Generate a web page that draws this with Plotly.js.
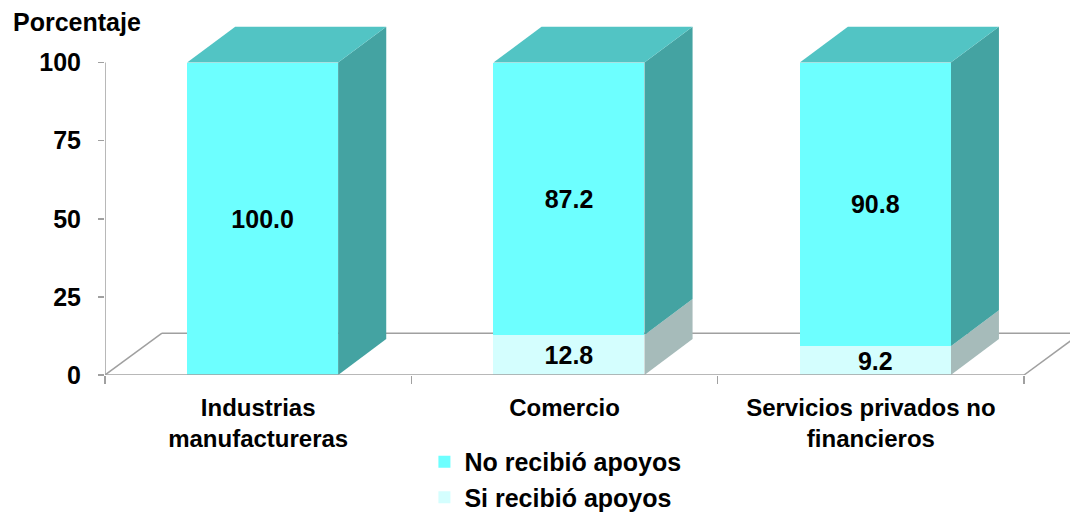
<!DOCTYPE html>
<html>
<head>
<meta charset="utf-8">
<script src="https://cdn.plot.ly/plotly-3.0.1.min.js"></script>
<style>
  html, body { margin: 0; padding: 0; background: #ffffff; }
  #chart { width: 1070px; height: 515px; }
</style>
</head>
<body>
<div id="chart"></div>
<script>
// ---- data ----
const categorias = ['Industrias<br>manufactureras', 'Comercio', 'Servicios privados no<br>financieros'];
const noRecibio = [100.0, 87.2, 90.8];
const siRecibio = [0.0, 12.8, 9.2];
const serieNo = 'No recibió apoyos';
const serieSi = 'Si recibió apoyos';
const yTicks = [0, 25, 50, 75, 100];
const tituloEje = 'Porcentaje';

// ---- styling ----
const FONT = 'Liberation Sans, Arial, Helvetica, sans-serif';
const colNoFront = '#6dffff', colNoSide = '#44a3a2', colNoTop = '#52c4c4';
const colSiFront = '#d4fefe', colSiSide = '#a6bbba';
const axisGray = '#a0a0a0';
const barWidth = 0.493, barOffset = -0.232;
const depthX = 0.157, depthY = 11.5;      // bar depth (axis units)
const floorX = 0.186, floorY = 13.4;      // floor depth (axis units)

const fmt = v => (v > 0 ? v.toFixed(1) : '');

const traceSi = {
  type: 'bar', name: serieSi, x: categorias, y: siRecibio,
  width: barWidth, offset: barOffset,
  marker: { color: colSiFront, line: { width: 0 } },
  text: siRecibio.map(fmt), textposition: 'inside', insidetextanchor: 'middle',
  textangle: 0, constraintext: 'none',
  textfont: { family: FONT, size: 25, color: '#000', weight: 'bold' },
  hoverinfo: 'skip'
};
const traceNo = {
  type: 'bar', name: serieNo, x: categorias, y: noRecibio,
  width: barWidth, offset: barOffset,
  marker: { color: colNoFront, line: { width: 0 } },
  text: noRecibio.map(fmt), textposition: 'inside', insidetextanchor: 'middle',
  textangle: 0, constraintext: 'none',
  textfont: { family: FONT, size: 25, color: '#000', weight: 'bold' },
  hoverinfo: 'skip'
};

// ---- pseudo-3D shapes derived from the data ----
const shapes = [];
const nCat = categorias.length;
const xL = -0.5, xR = nCat - 0.5;
const lineStyle = { color: axisGray, width: 1.5 };
// floor
shapes.push({ type: 'line', xref: 'x', yref: 'y', x0: xL, y0: 0, x1: xL + floorX, y1: floorY, line: lineStyle, layer: 'below' });
shapes.push({ type: 'line', xref: 'x', yref: 'y', x0: xL + floorX, y0: floorY, x1: xR + 1, y1: floorY, line: lineStyle, layer: 'below' });
shapes.push({ type: 'line', xref: 'x', yref: 'y', x0: xR, y0: 0, x1: xR + floorX * 1.5, y1: floorY * 1.5, line: lineStyle, layer: 'below' });

const pth = pts => 'M' + pts.map(p => p[0] + ',' + p[1]).join(' L') + ' Z';
for (let i = 0; i < nCat; i++) {
  const x0 = i + barOffset, x1 = x0 + barWidth;
  const s = siRecibio[i], tot = siRecibio[i] + noRecibio[i];
  if (s > 0) {
    shapes.push({ type: 'path', xref: 'x', yref: 'y', layer: 'below', line: { width: 0 }, fillcolor: colSiSide,
      path: pth([[x1, 0], [x1 + depthX, depthY], [x1 + depthX, s + depthY], [x1, s]]) });
  }
  shapes.push({ type: 'path', xref: 'x', yref: 'y', layer: 'below', line: { width: 0 }, fillcolor: colNoSide,
    path: pth([[x1, s], [x1 + depthX, s + depthY], [x1 + depthX, tot + depthY], [x1, tot]]) });
  shapes.push({ type: 'path', xref: 'x', yref: 'y', layer: 'below', line: { width: 0 }, fillcolor: colNoTop,
    path: pth([[x0, tot], [x1, tot], [x1 + depthX, tot + depthY], [x0 + depthX, tot + depthY]]) });
}
// axis lines
shapes.push({ type: 'line', xref: 'x', yref: 'y', x0: xL, y0: 0, x1: xL, y1: yTicks[yTicks.length - 1], line: lineStyle, layer: 'above' });
shapes.push({ type: 'line', xref: 'x', yref: 'y', x0: xL, y0: 0, x1: xR, y1: 0, line: lineStyle, layer: 'above' });

const layout = {
  width: 1070, height: 515,
  margin: { l: 105, r: 0, t: 22, b: 140, autoexpand: false },
  paper_bgcolor: '#ffffff', plot_bgcolor: '#ffffff',
  barmode: 'stack',
  showlegend: true,
  font: { family: FONT, color: '#000' },
  xaxis: {
    type: 'category', range: [xL, nCat - 0.35], fixedrange: true, automargin: false,
    tickson: 'boundaries', ticks: 'outside', ticklen: 8, tickwidth: 1.5, tickcolor: axisGray,
    ticklabelstandoff: 16,
    showline: false, showgrid: false, zeroline: false,
    tickfont: { family: FONT, size: 24, color: '#000', weight: 'bold' }
  },
  yaxis: {
    range: [0, 113], fixedrange: true, automargin: false,
    tickvals: yTicks, ticktext: yTicks.map(String),
    ticks: 'outside', ticklen: 6, tickwidth: 1.5, tickcolor: axisGray,
    ticklabelstandoff: 12,
    showline: false, showgrid: false, zeroline: false,
    tickfont: { family: FONT, size: 25, color: '#000', weight: 'bold' }
  },
  legend: {
    orientation: 'v', traceorder: 'reversed',
    x: 0.331, xanchor: 'left', y: -0.181, yanchor: 'top',
    bgcolor: 'rgba(0,0,0,0)',
    font: { family: FONT, size: 25, color: '#000', weight: 'bold' }
  },
  annotations: [{
    text: tituloEje, xref: 'paper', yref: 'paper', x: -0.097, y: 1.0,
    xanchor: 'left', yanchor: 'middle', showarrow: false,
    font: { family: FONT, size: 25, color: '#000', weight: 'bold' }
  }],
  shapes: shapes
};

Plotly.newPlot('chart', [traceSi, traceNo], layout, { displayModeBar: false, staticPlot: true });
</script>
</body>
</html>
